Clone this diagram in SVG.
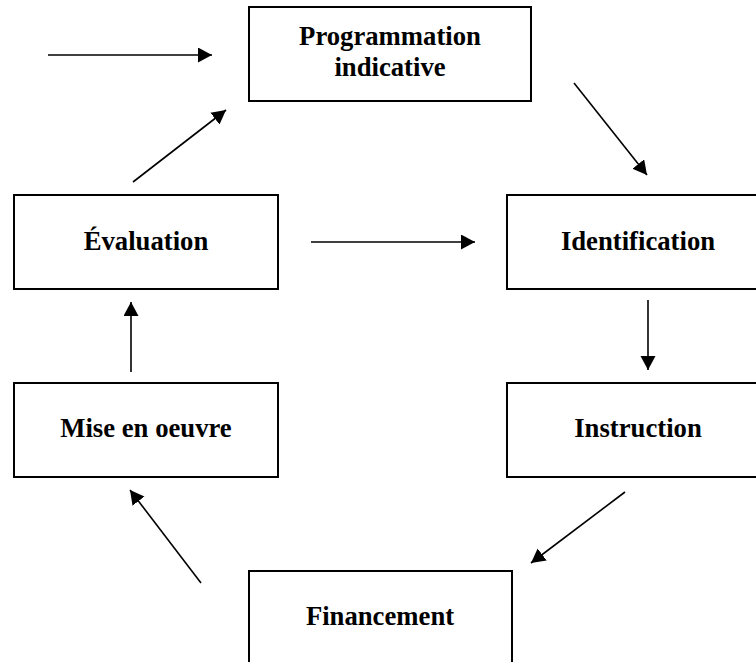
<svg xmlns="http://www.w3.org/2000/svg" width="756" height="662" viewBox="0 0 756 662">
  <style>
    .box { fill: #ffffff; stroke: #000000; stroke-width: 2; }
    .lbl { font-family: "Liberation Serif", "Times New Roman", serif; font-weight: bold; font-size: 26.7px; fill: #000000; text-anchor: middle; }
    .conn { stroke: #000000; stroke-width: 1.6; fill: none; marker-end: url(#arrow); }
  </style>
  <defs>
    <marker id="arrow" markerUnits="userSpaceOnUse" markerWidth="15" markerHeight="16" refX="14" refY="7.5" orient="auto">
      <path d="M0,0 L14,7.5 L0,15 z" fill="#000000"/>
    </marker>
  </defs>
  <rect width="756" height="662" fill="#ffffff"/>
  <g id="prog">
    <rect class="box" x="249" y="7" width="282" height="94"/>
    <text class="lbl" x="390" y="45">Programmation</text>
    <text class="lbl" x="390" y="76">indicative</text>
  </g>
  <g id="ident">
    <rect class="box" x="507" y="195" width="262" height="94"/>
    <text class="lbl" x="638" y="250">Identification</text>
  </g>
  <g id="eval">
    <rect class="box" x="14" y="195" width="264" height="94"/>
    <text class="lbl" x="146" y="250">Évaluation</text>
  </g>
  <g id="mise">
    <rect class="box" x="14" y="383" width="264" height="94"/>
    <text class="lbl" x="146" y="437">Mise en oeuvre</text>
  </g>
  <g id="instr">
    <rect class="box" x="507" y="383" width="262" height="94"/>
    <text class="lbl" x="638" y="437">Instruction</text>
  </g>
  <g id="fin">
    <rect class="box" x="249" y="571" width="263" height="110"/>
    <text class="lbl" x="380" y="625">Financement</text>
  </g>
  <g id="connectors">
    <line class="conn" x1="48" y1="55" x2="212" y2="55"/>
    <line class="conn" x1="133" y1="182" x2="226" y2="110"/>
    <line class="conn" x1="574" y1="83" x2="647" y2="175"/>
    <line class="conn" x1="311" y1="242" x2="475" y2="242"/>
    <line class="conn" x1="648" y1="300" x2="648" y2="370"/>
    <line class="conn" x1="625" y1="492" x2="531" y2="563"/>
    <line class="conn" x1="201" y1="583" x2="130" y2="490"/>
    <line class="conn" x1="131" y1="372" x2="131" y2="302"/>
  </g>
</svg>
